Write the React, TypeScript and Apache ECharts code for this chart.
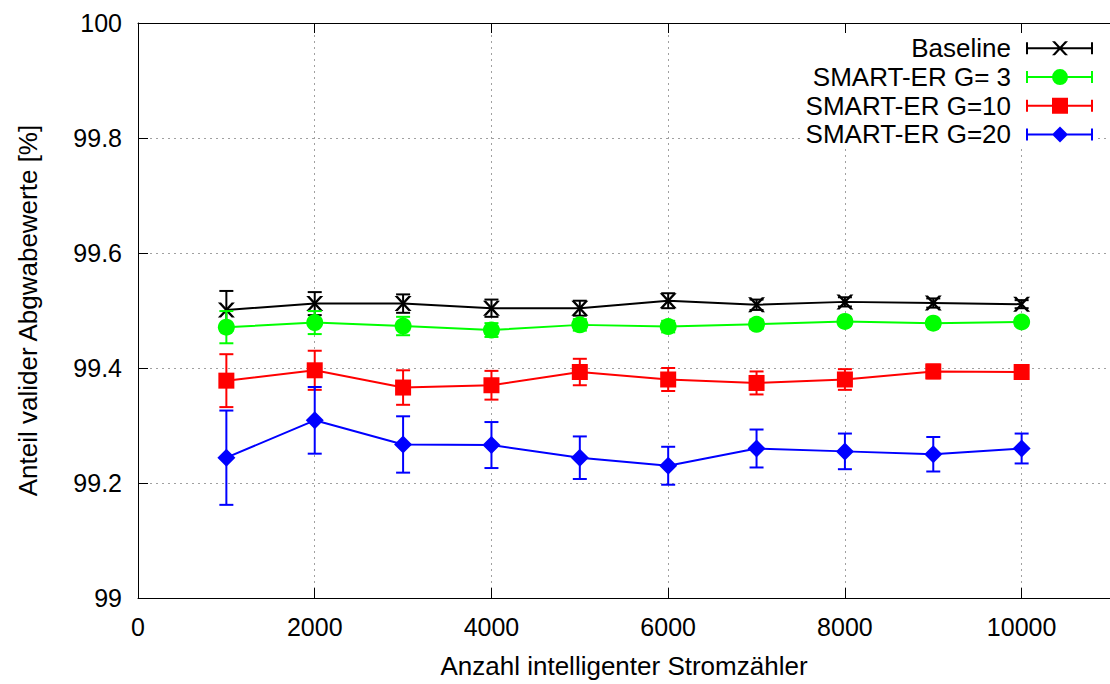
import React, { useEffect, useRef } from "react";
import * as echarts from "echarts";

const xValues = [1000, 2000, 3000, 4000, 5000, 6000, 7000, 8000, 9000, 10000];

const baselineVals = [99.501, 99.512, 99.512, 99.504, 99.504, 99.517, 99.51, 99.515, 99.513, 99.511];
const baselineErr = [0.033, 0.02, 0.016, 0.015, 0.013, 0.013, 0.009, 0.008, 0.008, 0.007];

const g3Vals = [99.471, 99.479, 99.473, 99.466, 99.475, 99.472, 99.476, 99.481, 99.478, 99.48];
const g3Err = [0.028, 0.02, 0.016, 0.012, 0.01, 0.01, 0.008, 0.007, 0.006, 0.006];

const g10Vals = [99.378, 99.396, 99.366, 99.37, 99.393, 99.38, 99.374, 99.38, 99.394, 99.393];
const g10Err = [0.046, 0.034, 0.03, 0.025, 0.023, 0.02, 0.02, 0.018, 0.012, 0.01];

const g20Vals = [99.244, 99.309, 99.267, 99.266, 99.244, 99.23, 99.26, 99.255, 99.25, 99.26];
const g20Err = [0.082, 0.058, 0.049, 0.04, 0.037, 0.033, 0.033, 0.031, 0.03, 0.026];

const seriesNames = ["Baseline", "SMART-ER G= 3", "SMART-ER G=10", "SMART-ER G=20"];
const seriesColors = ["#000000", "#00ff00", "#ff0000", "#0000ff"];

const xTitle = "Anzahl intelligenter Stromzähler";
const yTitle = "Anteil valider Abgwabewerte [%]";

const FONT = "Liberation Sans, Arial, Helvetica, sans-serif";

// symbols
const X_SYMBOL = "path://M0,0L3,0L16,14L13,14ZM13,0L16,0L3,14L0,14Z";
const BAR = "M0,7H67V9H0ZM0,2H2V14H0ZM65,2H67V14H65Z";
const legendIcons = [
  "path://" + BAR + "M26,1L29,1L42,15L39,15ZM39,1L42,1L29,15L26,15Z",
  "path://" + BAR + "M26,8A8,8 0 0 1 42,8A8,8 0 0 1 26,8Z",
  "path://" + BAR + "M26,0H42V16H26Z",
  "path://" + BAR + "M34,0L42,8L34,16L26,8Z",
];
const markerSymbols = [X_SYMBOL, "circle", "rect", "diamond"];
const markerSizes: any[] = [[17, 15], 17, 16, 18];

export default function App() {
  const ref = useRef<HTMLDivElement>(null);
  useEffect(() => {
    if (!ref.current) return;
    const chart = echarts.init(ref.current, null, { renderer: "svg" });
    const vals = [baselineVals, g3Vals, g10Vals, g20Vals];
    const errs = [baselineErr, g3Err, g10Err, g20Err];
    const series: any[] = [];
    vals.forEach((v, si) => {
      const color = seriesColors[si];
      series.push({
        type: "custom",
        name: seriesNames[si] + " err",
        xAxisIndex: 0,
        yAxisIndex: 0,
        z: 2 + si * 2,
        silent: true,
        encode: { x: 0, y: [1, 2] },
        data: xValues.map((x, i) => [x, v[i] - errs[si][i], v[i] + errs[si][i]]),
        renderItem: (params: any, api: any) => {
          const x = api.value(0);
          const p1 = api.coord([x, api.value(1)]);
          const p2 = api.coord([x, api.value(2)]);
          const w = 7;
          const style = { stroke: color, lineWidth: 2, fill: null };
          return {
            type: "group",
            children: [
              { type: "line", shape: { x1: p1[0], y1: p1[1], x2: p2[0], y2: p2[1] }, style },
              { type: "line", shape: { x1: p1[0] - w, y1: p1[1], x2: p1[0] + w, y2: p1[1] }, style },
              { type: "line", shape: { x1: p2[0] - w, y1: p2[1], x2: p2[0] + w, y2: p2[1] }, style },
            ],
          };
        },
      });
      series.push({
        type: "line",
        name: seriesNames[si],
        xAxisIndex: 0,
        yAxisIndex: 0,
        z: 3 + si * 2,
        data: xValues.map((x, i) => [x, v[i]]),
        symbol: markerSymbols[si],
        symbolSize: markerSizes[si],
        showAllSymbol: true,
        lineStyle: { color, width: 2 },
        itemStyle: { color, borderWidth: 0 },
        emphasis: { disabled: true },
      });
    });

    const tickStyle = { inside: true, length: 10, lineStyle: { color: "#000", width: 1 } };
    const axisLineStyle = { show: true, lineStyle: { color: "#000", width: 1 } };
    const gridLine = { show: true, lineStyle: { type: [2, 4], color: "#a0a0a0", width: 1 } };

    chart.setOption({
      animation: false,
      backgroundColor: "#fff",
      textStyle: { fontFamily: FONT },
      grid: { left: 138, top: 23, width: 984, height: 577, containLabel: false },
      legend: {
        data: seriesNames.map((n, i) => ({ name: n, icon: legendIcons[i] })),
        orient: "vertical",
        align: "right",
        right: 12,
        top: 34,
        padding: [0, 5, 0, 5],
        itemGap: 0,
        itemWidth: 67,
        itemHeight: 16,
        selectedMode: false,
        backgroundColor: "#fff",
        itemStyle: { borderWidth: 0 },
        textStyle: {
          fontFamily: FONT,
          fontSize: 26,
          color: "#000",
          lineHeight: 28.7,
          padding: [0, 10, 0, 0],
        },
      },
      xAxis: [
        {
          type: "value",
          min: 0,
          max: 11000,
          interval: 2000,
          position: "bottom",
          name: xTitle,
          nameLocation: "middle",
          nameGap: 55,
          nameTextStyle: { fontFamily: FONT, fontSize: 26, color: "#000" },
          axisLine: axisLineStyle,
          axisTick: tickStyle,
          axisLabel: {
            fontFamily: FONT,
            fontSize: 25,
            color: "#000",
            margin: 16,
            showMaxLabel: false,
            formatter: (v: number) => String(v),
          },
          splitLine: gridLine,
        },
        {
          type: "value",
          min: 0,
          max: 11000,
          interval: 2000,
          position: "top",
          axisLine: axisLineStyle,
          axisTick: tickStyle,
          axisLabel: { show: false },
          splitLine: { show: false },
        },
      ],
      yAxis: [
        {
          type: "value",
          min: 99,
          max: 100,
          interval: 0.2,
          name: yTitle,
          nameLocation: "middle",
          nameGap: 97,
          nameTextStyle: { fontFamily: FONT, fontSize: 26, color: "#000" },
          axisLine: axisLineStyle,
          axisTick: tickStyle,
          axisLabel: { fontFamily: FONT, fontSize: 25, color: "#000", margin: 16 },
          splitLine: gridLine,
        },
      ],
      series,
    });
    return () => chart.dispose();
  }, []);
  return (
    <div
      ref={ref}
      style={{ position: "fixed", left: 0, top: 0, width: 1110, height: 684, background: "#fff" }}
    />
  );
}
